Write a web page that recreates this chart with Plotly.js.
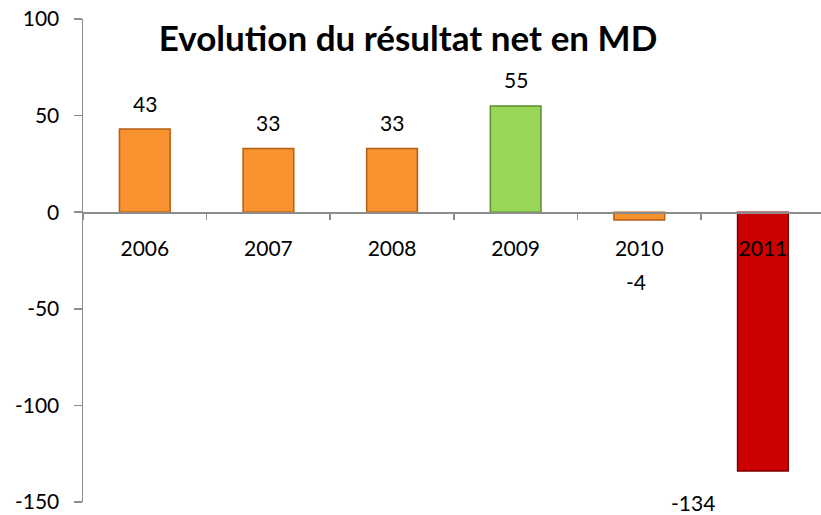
<!DOCTYPE html>
<html><head><meta charset="utf-8">
<script src="https://cdn.plot.ly/plotly-3.0.1.min.js"></script>
<style>html,body{margin:0;padding:0;overflow:hidden;background:#fff}</style>
</head><body><div id="chart" style="width:821px;height:515px"></div>
<script>
const years = ['2006','2007','2008','2009','2010','2011'];
const resultat = [43, 33, 33, 55, -4, -134];
const yTicks = [-150, -100, -50, 0, 50, 100];
const titleText = 'Evolution du résultat net en MD';

const fillColors = ['#F7922F','#F7922F','#F7922F','#97D656','#F7922F','#CC0000'];
const edgeColors = ['#B45F16','#B45F16','#B45F16','#5E8F2C','#B45F16','#7A0000'];

const bars = {
  type: 'bar', x: years, y: resultat, width: 0.41,
  marker: {color: fillColors, line: {color: edgeColors, width: 1.5}},
  hoverinfo: 'skip', showlegend: false
};

// annotation x on a category axis = category index
const ann = resultat.map((v, i) => {
  let yshift = 26, xshift = 0;
  if (v < 0 && v > -20) { yshift = -62; xshift = -3; }
  else if (v < 0) { yshift = -31; xshift = -70; }
  return {x: i, y: v, xref: 'x', yref: 'y', text: String(v), showarrow: false,
    yanchor: 'middle', xanchor: 'center', yshift: yshift, xshift: xshift,
    font: {family: 'Lato, Carlito, sans-serif', size: 21, color: '#000'}};
});

const layout = {
  width: 821, height: 515,
  margin: {l: 83, r: 0, t: 19, b: 13},
  paper_bgcolor: '#fff', plot_bgcolor: '#fff',
  font: {family: 'Lato, Carlito, sans-serif', size: 21, color: '#000'},
  title: {text: '<b>' + titleText + '</b>', x: 0.497, xanchor: 'center', y: 0.925, yanchor: 'middle',
    font: {family: 'Lato, Carlito, sans-serif', size: 35, color: '#000'}},
  xaxis: {type: 'category', range: [-0.5, 5.47], anchor: 'free', position: 0.6,
    showline: true, linecolor: '#8c8c8c', linewidth: 1.5,
    ticks: 'outside', tickson: 'boundaries', ticklen: 6, tickcolor: '#8c8c8c', tickwidth: 1.5,
    ticklabelstandoff: 17, showgrid: false, zeroline: false, fixedrange: true,
    tickfont: {family: 'Lato, Carlito, sans-serif', size: 21, color: '#000'}},
  yaxis: {range: [-150, 100], tickvals: yTicks, ticktext: yTicks.map(String),
    showline: true, linecolor: '#8c8c8c', linewidth: 1.5,
    ticks: 'outside', ticklen: 8, tickcolor: '#8c8c8c', tickwidth: 1.5,
    ticklabelstandoff: 10, showgrid: false, zeroline: false, fixedrange: true,
    tickfont: {family: 'Lato, Carlito, sans-serif', size: 21, color: '#000'}},
  annotations: ann, bargap: 0.59
};

Plotly.newPlot('chart', [bars], layout, {displayModeBar: false, staticPlot: true});
</script></body></html>
